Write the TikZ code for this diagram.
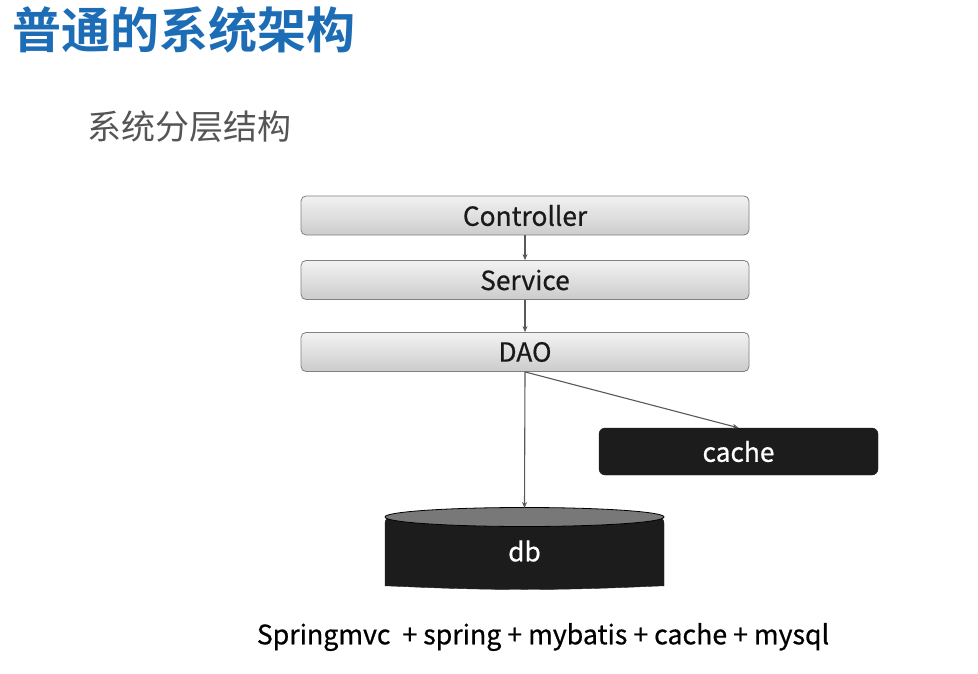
\documentclass[tikz,border=0pt]{standalone}
\usepackage{fontspec}
\setmainfont{Noto Sans CJK SC}
\newfontfamily\cjkbold{Noto Sans CJK SC Bold}
\newfontfamily\lbl[FakeBold=0.6]{Noto Sans CJK SC}
\usetikzlibrary{arrows.meta}
\definecolor{titleblue}{RGB}{28,108,182}
\definecolor{subgray}{RGB}{85,85,85}
\definecolor{darkbox}{RGB}{28,28,28}
\definecolor{lidgray}{RGB}{120,120,120}
\begin{document}
\begin{tikzpicture}[x=1pt,y=-1pt,
  layer/.style={draw=black!50, line width=0.8pt, rounded corners=5pt, top color=black!5, bottom color=black!20,
     minimum width=448pt, minimum height=39pt, inner sep=0pt, font=\lbl\fontsize{26.3}{29}\selectfont, text=black!90},
  darkbox/.style={fill=darkbox, draw=darkbox, rounded corners=6pt, minimum width=279pt, minimum height=47pt,
     inner sep=0pt, text=white, font=\lbl\fontsize{26.3}{29}\selectfont},
  conn/.style={draw=black!65, line width=1.1pt, -{Stealth[length=6pt,width=5pt]}}]
\path[use as bounding box, fill=white] (0,0) rectangle (978,674);
\node[anchor=west, text=titleblue, font=\cjkbold\fontsize{49}{54}\selectfont, inner sep=0pt] (title) at (12,30) {普通的系统架构};
\node[anchor=west, text=subgray, font=\fontsize{34}{37}\selectfont, inner sep=0pt] (sub) at (87,127) {系统分层结构};
\node[layer] (ctrl) at (525,215.5) {Controller};
\node[layer] (svc) at (525,280) {Service};
\node[layer] (dao) at (525,352) {DAO};
\node[darkbox] (cache) at (738.5,451.5) {cache};
% db cylinder
\fill[darkbox] (385,517) -- (385,580) arc[start angle=180,end angle=360,x radius=139.5pt,y radius=9.5pt] -- (664,517) -- cycle;
\draw[line width=0.8pt, fill=lidgray, draw=black] (524.5,517) ellipse[x radius=139.5pt, y radius=9.5pt];
\node[text=white, font=\lbl\fontsize{26.3}{29}\selectfont, inner sep=0pt] (db) at (524.5,551) {db};
\coordinate (dbtop) at (524.5,508);
\draw[conn] (ctrl.south) -- (svc.north);
\draw[conn] (svc.south) -- (dao.north);
\draw[conn] (dao.south) -- (dbtop);
\draw[conn] (dao.south) -- (cache.north);
\node[font=\lbl\fontsize{26.7}{30}\selectfont, text=black, inner sep=0pt] (stack) at (543,637) {Springmvc\ \ + spring + mybatis + cache + mysql};
\end{tikzpicture}
\end{document}
